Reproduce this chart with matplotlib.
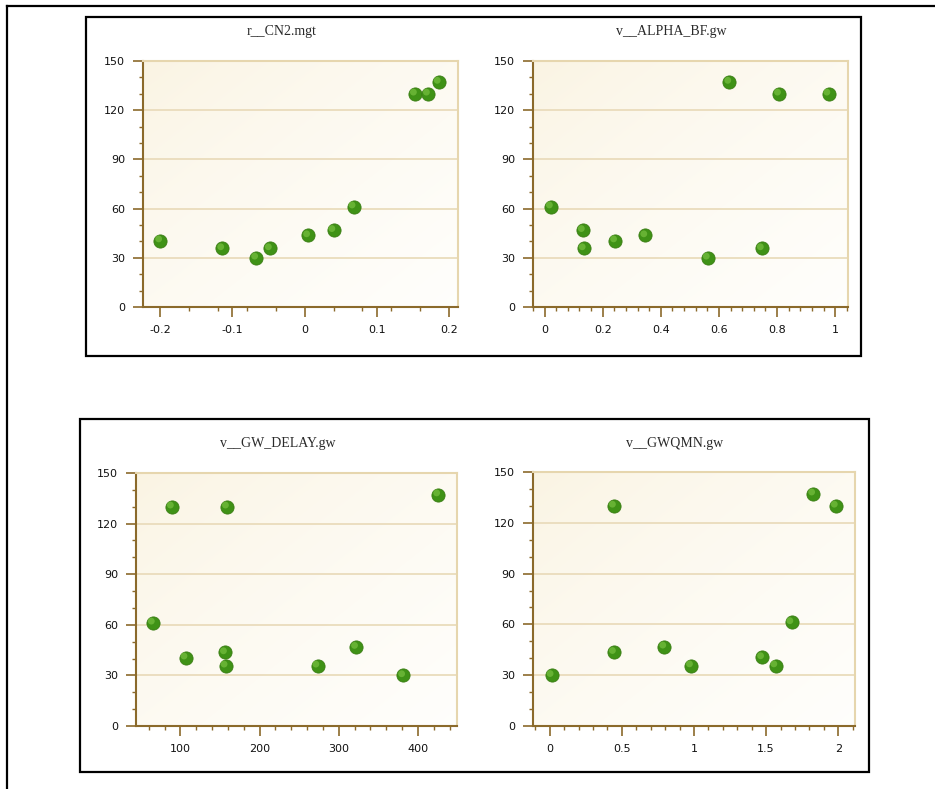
import numpy as np
import matplotlib
matplotlib.use('Agg')
from matplotlib import pyplot as plt
from matplotlib import transforms
from matplotlib.ticker import MultipleLocator
from matplotlib.patches import Rectangle
from matplotlib.lines import Line2D

# 四个参数的敏感性散点（横轴为参数值，纵轴为目标函数）
titles = ['r__CN2.mgt', 'v__ALPHA_BF.gw', 'v__GW_DELAY.gw', 'v__GWQMN.gw']

cn2_x = [-0.2, -0.114, -0.067, -0.048, 0.005, 0.040, 0.068, 0.153, 0.171, 0.186]
cn2_y = [40.5, 35.7, 30.0, 35.7, 43.6, 46.8, 61.2, 130.0, 130.0, 137.2]

alpha_x = [0.022, 0.132, 0.135, 0.243, 0.347, 0.562, 0.636, 0.748, 0.807, 0.977]
alpha_y = [61.2, 46.8, 35.7, 40.5, 43.6, 30.0, 137.2, 35.7, 130.0, 130.0]

delay_x = [65.4, 89.5, 106.7, 156.5, 157.3, 159.0, 273.2, 322.0, 381.5, 425.7]
delay_y = [61.2, 130.0, 40.5, 43.6, 35.7, 130.0, 35.7, 46.8, 30.0, 137.2]

gwqmn_x = [0.014, 0.446, 0.446, 0.795, 0.980, 1.473, 1.565, 1.676, 1.827, 1.984]
gwqmn_y = [30.0, 130.0, 43.6, 46.8, 35.7, 40.5, 35.7, 61.2, 137.2, 130.0]

W, H = 935, 789
fig = plt.figure(figsize=(W / 100, H / 100), dpi=100)
fig.patch.set_facecolor('white')


def px_box(left, top, right, bottom):
    # 像素坐标（左上为原点）转换为figure坐标
    return [left / W, 1 - bottom / H, (right - left) / W, (bottom - top) / H]


# 外框与两个图框
fig.add_artist(Line2D([7 / W, 1], [1 - 6 / H, 1 - 6 / H], color='black', lw=1.6))
fig.add_artist(Line2D([7 / W, 7 / W], [0, 1 - 6 / H], color='black', lw=1.6))
for l, t, r, b in [(86, 17, 861, 356), (80, 419, 869, 772)]:
    fig.add_artist(Rectangle((l / W, 1 - b / H), (r - l) / W, (b - t) / H,
                             fill=False, edgecolor='black', lw=1.6))

panels = [
    (cn2_x, cn2_y, (143, 61, 458, 307), (-0.224, 0.2125), 0.1, 0.04, 31),
    (alpha_x, alpha_y, (533, 61, 848, 307), (-0.040, 1.044), 0.2, 0.04, 31),
    (delay_x, delay_y, (136, 473, 457, 726), (44, 449.3), 100, 20, 443),
    (gwqmn_x, gwqmn_y, (533, 472, 855, 726), (-0.116, 2.116), 0.5, 0.1, 443),
]

# 背景渐变：左上偏米黄，右下偏白
grad = np.linspace(0, 1, 200)
gx, gy = np.meshgrid(grad, grad)
g = np.clip((gx + gy) / 2, 0, 1) ** 0.7
c0 = np.array([0.980, 0.955, 0.885])
c1 = np.array([1.0, 0.997, 0.988])
img = c0[None, None, :] * (1 - g[..., None]) + c1[None, None, :] * g[..., None]

for i, (xs, ys, box, xlim, major, minor, ty) in enumerate(panels):
    ax = fig.add_axes(px_box(*box))
    ax.imshow(img, extent=[0, 1, 0, 1], transform=ax.transAxes,
              aspect='auto', zorder=0, origin='upper')
    ax.set_xlim(*xlim)
    ax.set_ylim(0, 150)
    ax.set_yticks([0, 30, 60, 90, 120, 150])
    ax.yaxis.set_minor_locator(MultipleLocator(10))
    ax.xaxis.set_major_locator(MultipleLocator(major))
    ax.xaxis.set_minor_locator(MultipleLocator(minor))
    ax.xaxis.set_major_formatter(plt.FuncFormatter(lambda v, p: '{:g}'.format(round(v, 6))))
    for y in [30, 60, 90, 120]:
        ax.axhline(y, color='#eadcbc', lw=1.3, zorder=1)
    for s in ['left', 'bottom']:
        ax.spines[s].set_color('#8b6a2b')
        ax.spines[s].set_linewidth(1.5)
    for s in ['top', 'right']:
        ax.spines[s].set_color('#e6d6ae')
        ax.spines[s].set_linewidth(1.5)
    ax.tick_params(which='major', length=7, width=1.2, color='#8b6a2b',
                   labelsize=8, labelcolor='#111111', pad=6)
    ax.tick_params(which='minor', length=3, width=1.0, color='#8b6a2b')
    ax.scatter(xs, ys, s=90, c='#3f9216', edgecolors='#3a7d14',
               linewidths=0.6, zorder=3, clip_on=False)
    # 高光略偏左上
    hl = transforms.offset_copy(ax.transData, fig=fig, x=-1.2, y=1.2, units='points')
    ax.scatter(xs, ys, s=24, c='#7cc444', edgecolors='none', alpha=0.65,
               zorder=4, clip_on=False, transform=hl)
    cx = (box[0] - 38 + box[2]) / 2
    fig.text(cx / W, 1 - ty / H, titles[i], ha='center', va='center',
             family='Liberation Serif', fontsize=10, color='#2a2a2a')

plt.savefig('out.png', dpi=100)
